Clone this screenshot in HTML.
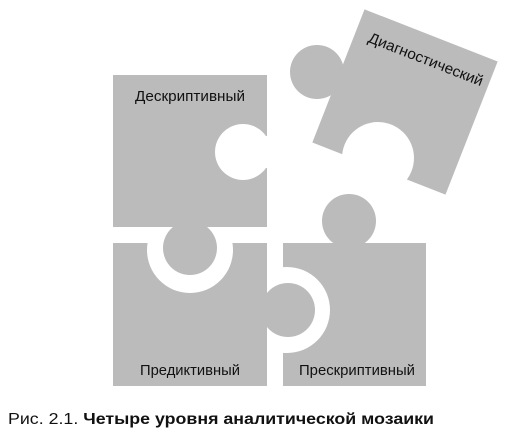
<!DOCTYPE html>
<html><head><meta charset="utf-8"><style>
html,body{margin:0;padding:0;background:#fff;width:510px;height:439px;overflow:hidden}
svg{display:block}
text{font-family:"Liberation Sans","DejaVu Sans",sans-serif;fill:#111}
</style></head><body>
<svg width="510" height="439" viewBox="0 0 510 439" xmlns="http://www.w3.org/2000/svg">
<defs>
<clipPath id="cPred"><rect x="100" y="243" width="180" height="160"/></clipPath>
<clipPath id="cPres"><rect x="283" y="243" width="160" height="160"/></clipPath>
</defs>
<g fill="#bbbbbb">
<rect x="113" y="75" width="154" height="152"/>
<circle cx="243" cy="152" r="28" fill="#fff"/>
<rect x="243" y="136" width="30" height="32" fill="#fff"/>
<rect x="113" y="243" width="154" height="143"/>
<circle cx="190" cy="250" r="43" fill="#fff" clip-path="url(#cPred)"/>
<circle cx="190" cy="248" r="27"/>
<rect x="180" y="225" width="20" height="20"/>
<rect x="283" y="243" width="143" height="143"/>
<circle cx="287" cy="310" r="43" fill="#fff" clip-path="url(#cPres)"/>
<circle cx="288" cy="310" r="27"/>
<circle cx="349" cy="221" r="27"/>
<g transform="rotate(21.4 405 102)">
<rect x="333.5" y="30.5" width="143" height="143"/>
</g>
<circle cx="317" cy="72" r="27"/>
<circle cx="378" cy="158" r="36" fill="#fff"/>
</g>
<text x="190" y="101" font-size="15" text-anchor="middle" textLength="110" lengthAdjust="spacingAndGlyphs">Дескриптивный</text>
<text x="190" y="375" font-size="15" text-anchor="middle" textLength="100" lengthAdjust="spacingAndGlyphs">Предиктивный</text>
<text x="357" y="375" font-size="15" text-anchor="middle" textLength="116" lengthAdjust="spacingAndGlyphs">Прескриптивный</text>
<text x="0" y="0" font-size="15" text-anchor="middle" textLength="122" lengthAdjust="spacingAndGlyphs" transform="translate(424 64) rotate(21.4)">Диагностический</text>
<text x="8" y="424" font-size="16" textLength="426" lengthAdjust="spacingAndGlyphs">Рис. 2.1. <tspan font-weight="bold">Четыре уровня аналитической мозаики</tspan></text>
</svg>
</body></html>
